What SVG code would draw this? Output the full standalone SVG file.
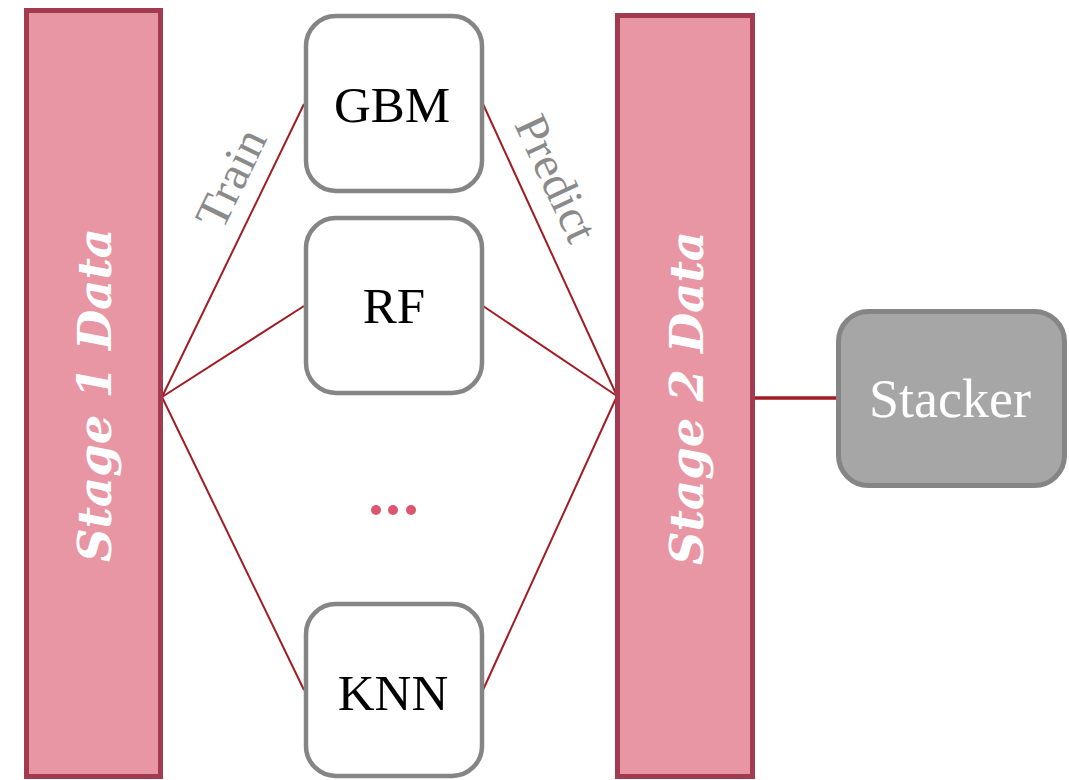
<svg xmlns="http://www.w3.org/2000/svg" width="1069" height="780" viewBox="0 0 1069 780">
  <style>
    .stage { fill: #e895a4; stroke: #a23b4f; stroke-width: 5; }
    .stage-label { font-family: "DejaVu Serif", "Liberation Serif", serif; font-weight: bold; font-style: italic; font-size: 47px; fill: #ffffff; text-anchor: middle; }
    .model { fill: #ffffff; stroke: #858585; stroke-width: 4.5; }
    .model-label { font-family: "Liberation Serif", serif; font-size: 51px; fill: #000000; text-anchor: middle; }
    .stacker { fill: #a6a6a6; stroke: #858585; stroke-width: 5; }
    .stacker-label { font-family: "Liberation Serif", serif; font-size: 54px; fill: #ffffff; text-anchor: middle; }
    .edge { stroke: #a01c22; stroke-width: 2; fill: none; }
    .edge-main { stroke: #a01c22; stroke-width: 3.5; fill: none; }
    .edge-label { font-family: "Liberation Serif", serif; font-size: 47px; fill: #8a8a8a; text-anchor: middle; }
    .dot { fill: #dc566f; }
  </style>

  <!-- connectors -->
  <g id="connectors">
    <line class="edge" x1="162" y1="397" x2="304" y2="104"/>
    <line class="edge" x1="162" y1="397" x2="304" y2="306"/>
    <line class="edge" x1="162" y1="397" x2="304" y2="690"/>
    <line class="edge" x1="483" y1="104" x2="617" y2="396"/>
    <line class="edge" x1="483" y1="306" x2="617" y2="396"/>
    <line class="edge" x1="483" y1="690" x2="617" y2="396"/>
    <line class="edge-main" x1="753" y1="398" x2="837" y2="398"/>
    <text class="edge-label" transform="translate(245,185) rotate(-64)" textLength="104" lengthAdjust="spacingAndGlyphs">Train</text>
    <text class="edge-label" transform="translate(542,185) rotate(65)" textLength="134" lengthAdjust="spacingAndGlyphs">Predict</text>
  </g>

  <!-- stage 1 data column -->
  <g id="stage1">
    <rect class="stage" x="26.5" y="10.5" width="134" height="766"/>
    <text class="stage-label" transform="translate(111,395) rotate(-90)" textLength="334" lengthAdjust="spacingAndGlyphs">Stage 1 Data</text>
  </g>

  <!-- base models -->
  <g id="gbm">
    <rect class="model" x="306" y="16" width="176" height="175" rx="30"/>
    <text class="model-label" x="392" y="122">GBM</text>
  </g>
  <g id="rf">
    <rect class="model" x="306" y="218" width="176" height="175" rx="30"/>
    <text class="model-label" x="394" y="323">RF</text>
  </g>
  <g id="more">
    <circle class="dot" cx="376" cy="510" r="5"/>
    <circle class="dot" cx="393" cy="510" r="5"/>
    <circle class="dot" cx="411" cy="510" r="5"/>
  </g>
  <g id="knn">
    <rect class="model" x="306" y="604" width="176" height="172" rx="30"/>
    <text class="model-label" x="393" y="710">KNN</text>
  </g>

  <!-- stage 2 data column -->
  <g id="stage2">
    <rect class="stage" x="617.5" y="15.5" width="135" height="761"/>
    <text class="stage-label" transform="translate(703,398) rotate(-90)" textLength="334" lengthAdjust="spacingAndGlyphs">Stage 2 Data</text>
  </g>

  <!-- meta learner -->
  <g id="stacker">
    <rect class="stacker" x="838.5" y="311.5" width="226" height="174" rx="30"/>
    <text class="stacker-label" x="950" y="417">Stacker</text>
  </g>
</svg>
